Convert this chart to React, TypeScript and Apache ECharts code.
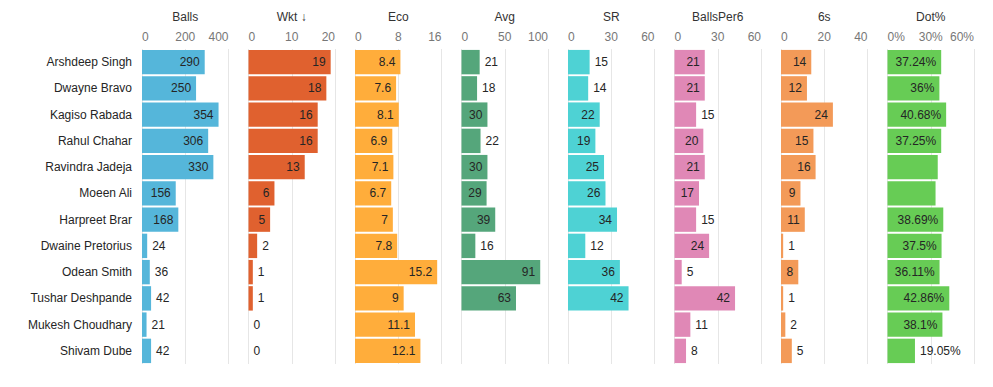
import React, { useEffect, useRef } from "react";
import * as echarts from "echarts";

const players = [
  "Arshdeep Singh",
  "Dwayne Bravo",
  "Kagiso Rabada",
  "Rahul Chahar",
  "Ravindra Jadeja",
  "Moeen Ali",
  "Harpreet Brar",
  "Dwaine Pretorius",
  "Odean Smith",
  "Tushar Deshpande",
  "Mukesh Choudhary",
  "Shivam Dube",
];

const balls = [290, 250, 354, 306, 330, 156, 168, 24, 36, 42, 21, 42];
const wkt = [19, 18, 16, 16, 13, 6, 5, 2, 1, 1, 0, 0];
const eco = [8.4, 7.6, 8.1, 6.9, 7.1, 6.7, 7, 7.8, 15.2, 9, 11.1, 12.1];
const avg = [21, 18, 30, 22, 30, 29, 39, 16, 91, 63, null, null];
const sr = [15, 14, 22, 19, 25, 26, 34, 12, 36, 42, null, null];
const ballsPer6 = [21, 21, 15, 20, 21, 17, 15, 24, 5, 42, 11, 8];
const sixes = [14, 12, 24, 15, 16, 9, 11, 1, 8, 1, 2, 5];
const dotPct = [37.24, 36, 40.68, 37.25, 34.85, 33.33, 38.69, 37.5, 36.11, 42.86, 38.1, 19.05];
const dotPctLabelShown = [true, true, true, true, false, false, true, true, true, true, true, true];

const titles = ["Balls", "Wkt \u2193", "Eco", "Avg", "SR", "BallsPer6", "6s", "Dot%"];
const axisMax = [400, 20, 16, 100, 60, 60, 40, 60];
const axisInterval = [200, 10, 8, 50, 30, 30, 20, 30];
const colors = ["#55B6DA", "#E0612F", "#FFAD3B", "#55A67B", "#4ED2D4", "#E088B6", "#F39A58", "#67CC55"];
const seriesData = [balls, wkt, eco, avg, sr, ballsPer6, sixes, dotPct];
const percentFlags = [false, false, false, false, false, false, false, true];

const FONT = "Arial, 'Liberation Sans', sans-serif";

export default function App() {
  const ref = useRef<HTMLDivElement>(null);

  useEffect(() => {
    if (!ref.current) return;
    const chart = echarts.init(ref.current, null, { renderer: "svg" });

    const canvas = document.createElement("canvas");
    const ctx = canvas.getContext("2d");
    const measure = (t: string) => {
      if (!ctx) return t.length * 6.7;
      ctx.font = "12px " + FONT;
      return ctx.measureText(t).width;
    };

    const panelLeft = 142;
    const panelStep = 106.5;
    const panelWidth = 86.5;
    const top = 49;
    const height = 315;

    const grids: any[] = [];
    const xAxes: any[] = [];
    const yAxes: any[] = [];
    const series: any[] = [];

    titles.forEach((title, i) => {
      grids.push({
        left: panelLeft + i * panelStep,
        top,
        width: panelWidth,
        height,
        containLabel: false,
      });
      const pct = percentFlags[i];
      xAxes.push({
        type: "value",
        gridIndex: i,
        position: "top",
        min: 0,
        max: axisMax[i],
        interval: axisInterval[i],
        name: title,
        nameLocation: "middle",
        nameGap: 26,
        nameTextStyle: { color: "#333", fontSize: 12, fontFamily: FONT },
        axisLine: { show: false },
        axisTick: { show: false },
        axisLabel: {
          color: "#777",
          fontSize: 12,
          fontFamily: FONT,
          margin: 6,
          alignMinLabel: "left",
          alignMaxLabel: "right",
          formatter: (v: number) => (pct ? v + "%" : String(v)),
        },
        splitLine: { show: true, lineStyle: { color: "#e6e6e6", width: 1 } },
      });
      yAxes.push({
        type: "category",
        gridIndex: i,
        inverse: true,
        data: players,
        axisLine: { show: false },
        axisTick: { show: false },
        splitLine: { show: false },
        axisLabel: {
          show: i === 0,
          color: "#252525",
          fontSize: 12,
          fontFamily: FONT,
          margin: 10,
        },
      });
      const max = axisMax[i];
      const data = seriesData[i].map((v: number | null, j: number) => {
        if (v === null || v === undefined) return { value: null };
        const text = pct ? v + "%" : String(v);
        const barPx = (v / max) * panelWidth;
        const fits = barPx >= measure(text) + 10;
        const show = pct ? dotPctLabelShown[j] : true;
        return {
          value: v,
          label: {
            show,
            position: fits ? "insideRight" : "right",
          },
        };
      });
      series.push({
        type: "bar",
        xAxisIndex: i,
        yAxisIndex: i,
        data,
        barCategoryGap: "7%",
        itemStyle: { color: colors[i] },
        label: {
          show: true,
          distance: 5,
          color: "#252525",
          fontSize: 12,
          fontFamily: FONT,
          formatter: (p: any) => (pct ? p.value + "%" : String(p.value)),
        },
      });
    });

    chart.setOption({
      animation: false,
      backgroundColor: "#ffffff",
      textStyle: { fontFamily: FONT },
      grid: grids,
      xAxis: xAxes,
      yAxis: yAxes,
      series,
    });

    return () => chart.dispose();
  }, []);

  return (
    <div
      ref={ref}
      style={{ position: "fixed", left: 0, top: 0, width: 993, height: 387 }}
    />
  );
}
